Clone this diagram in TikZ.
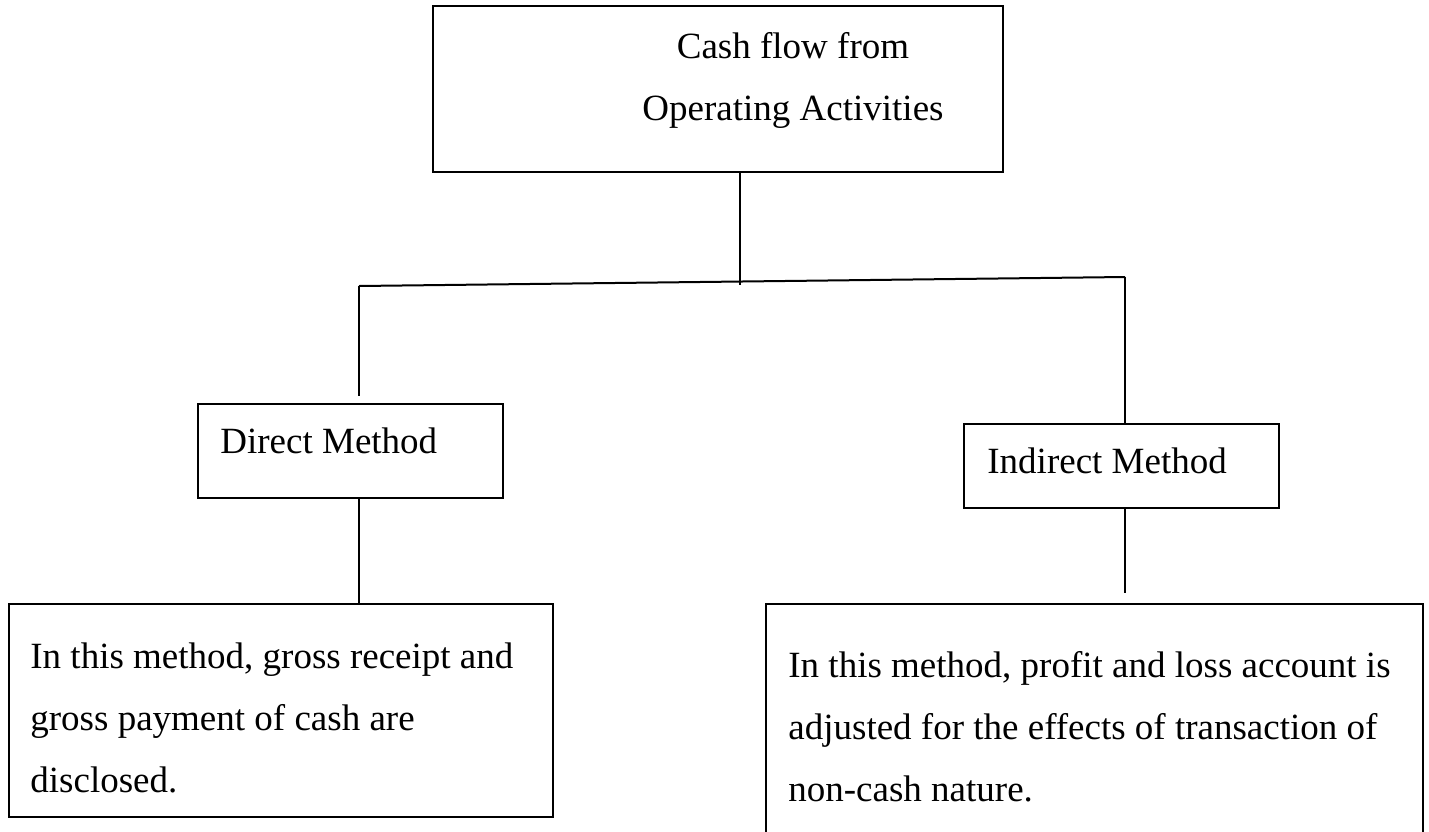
\documentclass[tikz,border=0pt]{standalone}
\usepackage{fontspec}
\setmainfont{Liberation Serif}
\tikzset{
  box/.style = {draw, line width = 1pt, inner sep = 0pt},
  txt/.style = {inner sep = 0pt, anchor = north west, align = left,
                font = \fontsize{18.5}{31}\selectfont},
  link/.style = {line width = 1pt}
}
\begin{document}
\begin{tikzpicture}[x = 0.5pt, y = -0.5pt]
\useasboundingbox (0,0) rectangle (1429,831);
\node [box, minimum width = 285pt, minimum height = 83pt] (cfo) at (718,89) {};
\node [box, minimum width = 152.5pt, minimum height = 47pt] (direct) at (350.5,451) {};
\node [box, minimum width = 157.5pt, minimum height = 42pt] (indirect) at (1121.5,466) {};
\node [box, minimum width = 272pt, minimum height = 106.5pt] (directnote) at (281,710.5) {};
\node [box, minimum width = 328.5pt, minimum height = 123pt] (indirectnote) at (1094.5,727) {};
\node [txt, anchor = north, align = center] (cfotext) at (793,15) {\strut Cash flow from\\Operating Activities};
\node [txt] (directtext) at (220,410) {\strut Direct Method};
\node [txt] (indirecttext) at (987,430) {\strut Indirect Method};
\node [txt] (directnotetext) at (30,625) {\strut In this method, gross receipt and\\gross payment of cash are\\disclosed.};
\node [txt] (indirectnotetext) at (788,634) {\strut In this method, profit and loss account is\\adjusted for the effects of transaction of\\non-cash nature.};
\coordinate (jl) at (359,286);
\coordinate (jr) at (1125,277);
\coordinate (jt) at (740,285);
\coordinate (jlend) at (359,396);
\coordinate (jrend) at (1125,593);
\draw [link] (jl) -- (jr);
\draw [link] (cfo.south -| jt) -- (jt);
\draw [link] (jl) -- (jlend);
\draw [link] (jr) -- (jr |- indirect.north);
\draw [link] (direct.south -| jl) -- (directnote.north -| jl);
\draw [link] (indirect.south -| jr) -- (jrend);
\end{tikzpicture}
\end{document}
